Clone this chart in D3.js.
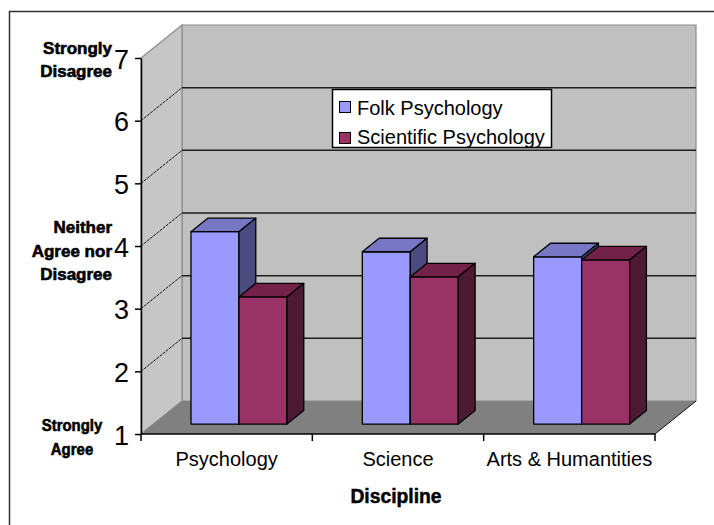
<!DOCTYPE html>
<html>
<head>
<meta charset="utf-8">
<script src="https://cdn.jsdelivr.net/npm/d3@7"></script>
<style>
  body { margin: 0; background: #fff; }
  svg { display: block; font-family: "Liberation Sans", Arial, sans-serif; }
</style>
</head>
<body>
<div id="chart"></div>
<script>
// data
const categories = ["Psychology", "Science", "Arts & Humantities"]
const seriesNames = ["Folk Psychology", "Scientific Psychology"]
const folkValues = [4.07, 3.75, 3.67]
const scientificValues = [3.03, 3.35, 3.62]
const yTicks = [1, 2, 3, 4, 5, 6, 7]
const anchorLabels = [
  { value: 7, lines: ["Strongly", "Disagree"] },
  { value: 4, lines: ["Neither", "Agree nor", "Disagree"] },
  { value: 1, lines: ["Strongly", "Agree"] }
]
const xTitle = "Discipline"

// colours: front / top / side of each series
const palette = [
  { front: "#9999ff", top: "#7777c6", side: "#4b4b82" },
  { front: "#993366", top: "#722248", side: "#4c1a33" }
]

const width = 714, height = 525
const DX = 41, DY = 33          // depth of the plot box
const barZ0 = 0.3, barZ1 = 0.71 // where the bars sit in depth

const svg = d3.select("#chart").append("svg")
  .attr("width", width)
  .attr("height", height)

// outer frame
svg.append("rect")
  .attr("x", 9.5).attr("y", 11.5)
  .attr("width", 760).attr("height", 600)
  .attr("fill", "none").attr("stroke", "#333").attr("stroke-width", 1.5)

const x = d3.scaleBand().domain(categories).range([141, 655])
const y = d3.scaleLinear().domain([1, 7]).range([434, 58])
const xs = d3.scaleBand().domain(seriesNames).range([0, x.bandwidth()])
  .paddingInner(0).paddingOuter(0.785)

const P = (px, py, z) => [px + z * DX, py - z * DY]
const poly = pts => "M" + pts.map(p => p.join(",")).join("L") + "Z"

const [x0, x1] = x.range()
const [yBot, yTop] = y.range()

// walls and floor
svg.append("path")
  .attr("d", poly([P(x0, yTop, 1), P(x1, yTop, 1), P(x1, yBot, 1), P(x0, yBot, 1)]))
  .attr("fill", "#c0c0c0").attr("stroke", "#8c8c8c").attr("stroke-width", 1.2)

svg.append("path")
  .attr("d", poly([P(x0, yTop, 0), P(x0, yTop, 1), P(x0, yBot, 1), P(x0, yBot, 0)]))
  .attr("fill", "#c6c6c6").attr("stroke", "#8c8c8c").attr("stroke-width", 1.2)

svg.append("path")
  .attr("d", poly([P(x0, yBot, 0), P(x0, yBot, 1), P(x1, yBot, 1), P(x1, yBot, 0)]))
  .attr("fill", "#808080")

// floor right edge
svg.append("line")
  .attr("x1", P(x1, yBot, 0)[0]).attr("y1", P(x1, yBot, 0)[1])
  .attr("x2", P(x1, yBot, 1)[0]).attr("y2", P(x1, yBot, 1)[1])
  .attr("stroke", "#111").attr("stroke-width", 1)

// gridlines: back wall + side wall
const inner = yTicks.filter(t => t > 1 && t < 7)
svg.append("g").selectAll("line")
  .data(inner)
  .join("line")
  .attr("x1", P(x0, 0, 1)[0]).attr("x2", P(x1, 0, 1)[0])
  .attr("y1", d => P(0, y(d), 1)[1]).attr("y2", d => P(0, y(d), 1)[1])
  .attr("stroke", "#1e1e1e").attr("stroke-width", 1.5)

svg.append("g").selectAll("line")
  .data(inner)
  .join("line")
  .attr("x1", x0).attr("y1", d => y(d))
  .attr("x2", P(x0, 0, 1)[0]).attr("y2", d => P(0, y(d), 1)[1])
  .attr("stroke", "#111").attr("stroke-width", 1)
  .attr("stroke-dasharray", "3,1")

// legend
const legend = svg.append("g")
legend.append("rect")
  .attr("x", 332.5).attr("y", 89.5).attr("width", 219).attr("height", 58)
  .attr("fill", "#fff").attr("stroke", "#000").attr("stroke-width", 1.5)
seriesNames.forEach((name, i) => {
  legend.append("rect")
    .attr("x", 339.5).attr("y", 101.5 + i * 31).attr("width", 11).attr("height", 11)
    .attr("fill", palette[i].front).attr("stroke", "#000").attr("stroke-width", 1)
  legend.append("text")
    .attr("x", 357).attr("y", 115 + i * 29)
    .style("font-size", "20px").attr("fill", "#000")
    .text(name)
})

// bars
const series = [folkValues, scientificValues]
const barGroup = svg.append("g")
categories.forEach((cat, ci) => {
  series.forEach((vals, si) => {
    const v = vals[ci]
    const bx = x(cat) + xs(seriesNames[si])
    const bw = xs.bandwidth()
    const yv = y(v), y1 = y(1)
    const col = palette[si]
    const g = barGroup.append("g")
      .attr("stroke", "#000").attr("stroke-width", 1.3).attr("stroke-linejoin", "round")
    g.append("path")
      .attr("d", poly([P(bx, yv, barZ0), P(bx + bw, yv, barZ0), P(bx + bw, y1, barZ0), P(bx, y1, barZ0)]))
      .attr("fill", col.front)
    g.append("path")
      .attr("d", poly([P(bx, yv, barZ0), P(bx, yv, barZ1), P(bx + bw, yv, barZ1), P(bx + bw, yv, barZ0)]))
      .attr("fill", col.top)
    g.append("path")
      .attr("d", poly([P(bx + bw, yv, barZ0), P(bx + bw, yv, barZ1), P(bx + bw, y1, barZ1), P(bx + bw, y1, barZ0)]))
      .attr("fill", col.side)
  })
})

// y axis
const yAxis = svg.append("g")
  .attr("transform", `translate(${x0},0)`)
  .call(d3.axisLeft(y).tickValues(yTicks).tickFormat(d3.format("d")).tickSize(6).tickSizeOuter(0).tickPadding(6))
yAxis.select(".domain").attr("stroke", "#000").attr("stroke-width", 1.5)
yAxis.selectAll(".tick line").attr("stroke", "#000").attr("stroke-width", 1.5)
yAxis.selectAll(".tick text")
  .attr("font-family", "Liberation Sans, Arial, sans-serif")
  .style("font-size", "27px").attr("fill", "#000")
  .attr("dy", "0.38em")

// x axis: front edge, boundary ticks, centred labels
svg.append("line")
  .attr("x1", x0).attr("x2", x1).attr("y1", yBot).attr("y2", yBot)
  .attr("stroke", "#000").attr("stroke-width", 1.5)
svg.append("g").selectAll("line")
  .data([...categories.map(c => x(c)), x1])
  .join("line")
  .attr("x1", d => d).attr("x2", d => d)
  .attr("y1", yBot).attr("y2", yBot + 7)
  .attr("stroke", "#000").attr("stroke-width", 1.5)

const xAxis = svg.append("g")
  .attr("transform", `translate(0,${yBot})`)
  .call(d3.axisBottom(x).tickSize(0).tickPadding(18))
xAxis.select(".domain").remove()
xAxis.selectAll(".tick text")
  .attr("font-family", "Liberation Sans, Arial, sans-serif")
  .style("font-size", "20px").attr("fill", "#000")

svg.append("text")
  .attr("transform", `translate(${(x0 + x1) / 2 - 2},503) scale(0.92,1)`)
  .attr("text-anchor", "middle")
  .style("font-size", "21px").style("font-weight", "bold")
  .attr("stroke", "#000").attr("stroke-width", 0.5)
  .text(xTitle)

// word labels on the value axis
const labelLayout = {
  7: { dy: [-4, 19], x: 112, anchor: "end", sx: 1 },
  4: { dy: [-13, 11, 34], x: 112, anchor: "end", sx: 1 },
  1: { dy: [-3, 21], x: 72, anchor: "middle", sx: 0.88 }
}
anchorLabels.forEach(lab => {
  const lay = labelLayout[lab.value]
  lab.lines.forEach((line, i) => {
    svg.append("text")
      .attr("transform", `translate(${lay.x},${y(lab.value) + lay.dy[i]}) scale(${lay.sx},1)`)
      .attr("text-anchor", lay.anchor)
      .style("font-size", "17px").style("font-weight", "bold")
      .attr("stroke", "#000").attr("stroke-width", 0.6)
      .text(line)
  })
})
</script>
</body>
</html>
